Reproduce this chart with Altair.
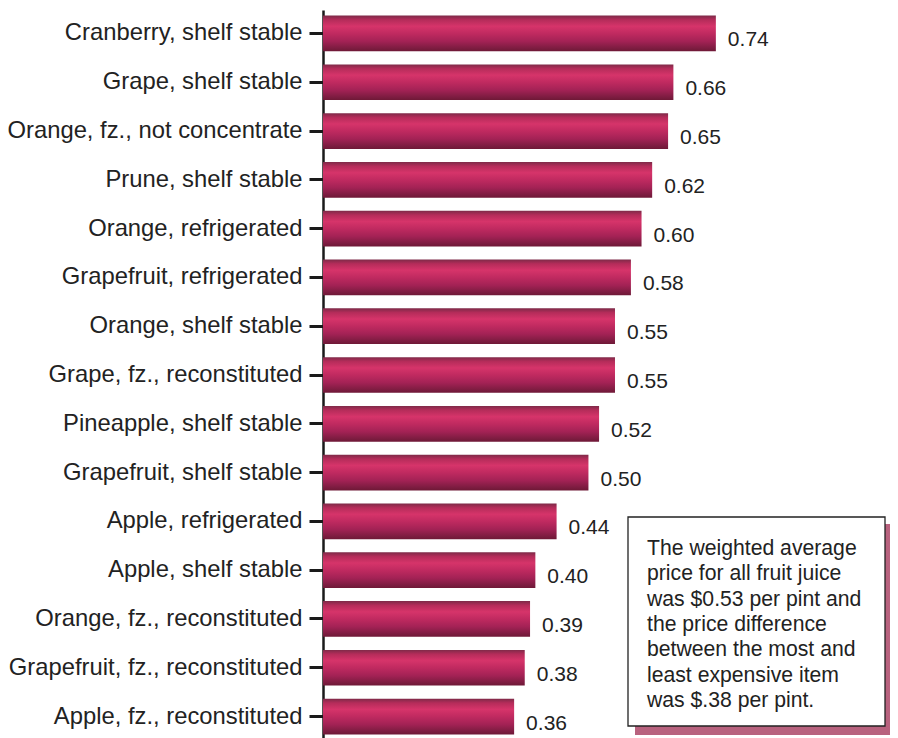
import altair as alt
import pandas as pd

categories = [
    "Cranberry, shelf stable",
    "Grape, shelf stable",
    "Orange, fz., not concentrate",
    "Prune, shelf stable",
    "Orange, refrigerated",
    "Grapefruit, refrigerated",
    "Orange, shelf stable",
    "Grape, fz., reconstituted",
    "Pineapple, shelf stable",
    "Grapefruit, shelf stable",
    "Apple, refrigerated",
    "Apple, shelf stable",
    "Orange, fz., reconstituted",
    "Grapefruit, fz., reconstituted",
    "Apple, fz., reconstituted",
]
prices = [0.74, 0.66, 0.65, 0.62, 0.60, 0.58, 0.55, 0.55, 0.52, 0.50, 0.44, 0.40, 0.39, 0.38, 0.36]
price_labels = ["0.74", "0.66", "0.65", "0.62", "0.60", "0.58", "0.55", "0.55", "0.52", "0.50",
                "0.44", "0.40", "0.39", "0.38", "0.36"]
note_lines = [
    "The weighted average",
    "price for all fruit juice",
    "was $0.53 per pint and",
    "the price difference",
    "between the most and",
    "least expensive item",
    "was $.38 per pint.",
]

df = pd.DataFrame({"item": categories, "price": prices, "label": price_labels})

FONT = "Liberation Sans"

gradient = alt.Gradient(
    gradient="linear",
    x1=0, y1=0, x2=0, y2=1,
    stops=[
        alt.GradientStop(color="#7e2a48", offset=0.0),
        alt.GradientStop(color="#b52c5a", offset=0.12),
        alt.GradientStop(color="#d6346a", offset=0.3),
        alt.GradientStop(color="#c02a60", offset=0.5),
        alt.GradientStop(color="#a32255", offset=0.72),
        alt.GradientStop(color="#7c1c40", offset=0.92),
        alt.GradientStop(color="#6e1836", offset=1.0),
    ],
)

x_scale = alt.Scale(domain=[0, 1.068], nice=False, zero=True)
y_enc = alt.Y(
    "item:N",
    sort=categories,
    scale=alt.Scale(paddingInner=0.268, paddingOuter=0.115),
    axis=alt.Axis(
        title=None,
        labelFont=FONT,
        labelFontSize=23.8,
        labelColor="#222222",
        labelPadding=7,
        tickSize=14,
        tickWidth=3,
        tickColor="#1a1a1a",
        domainColor="#1a1a1a",
        domainWidth=2.5,
        grid=False,
        labelLimit=400,
    ),
)

bars = alt.Chart(df).mark_bar(color=gradient).encode(
    x=alt.X("price:Q", scale=x_scale, axis=None),
    y=y_enc,
)

values = alt.Chart(df).mark_text(
    align="left", baseline="middle", dx=12, dy=7, font=FONT, fontSize=21, color="#222222"
).encode(
    x=alt.X("price:Q", scale=x_scale, axis=None),
    y=alt.Y("item:N", sort=categories),
    text="label:N",
)

note_df = pd.DataFrame({"k": [0]})

shadow = alt.Chart(note_df).mark_rect(color="#b8627e").encode(
    x=alt.value(312), x2=alt.value(567), y=alt.value(514), y2=alt.value(725)
)
box = alt.Chart(note_df).mark_rect(fill="white", stroke="#222222", strokeWidth=1.3).encode(
    x=alt.value(305), x2=alt.value(562), y=alt.value(507), y2=alt.value(716)
)
note = alt.Chart(note_df).mark_text(
    text=note_lines, align="left", baseline="alphabetic", font=FONT, fontSize=21.2,
    lineHeight=25.3, color="#222222"
).encode(x=alt.value(324), y=alt.value(545))

chart = alt.layer(bars, values, shadow, box, note).properties(
    width=567,
    height=730,
    padding={"left": 315, "top": 2, "right": 0, "bottom": 0},
    autosize=alt.AutoSizeParams(type="none"),
    background="white",
).configure_view(stroke=None)

chart.save("out.html", embed_options={"renderer": "svg", "actions": False})
